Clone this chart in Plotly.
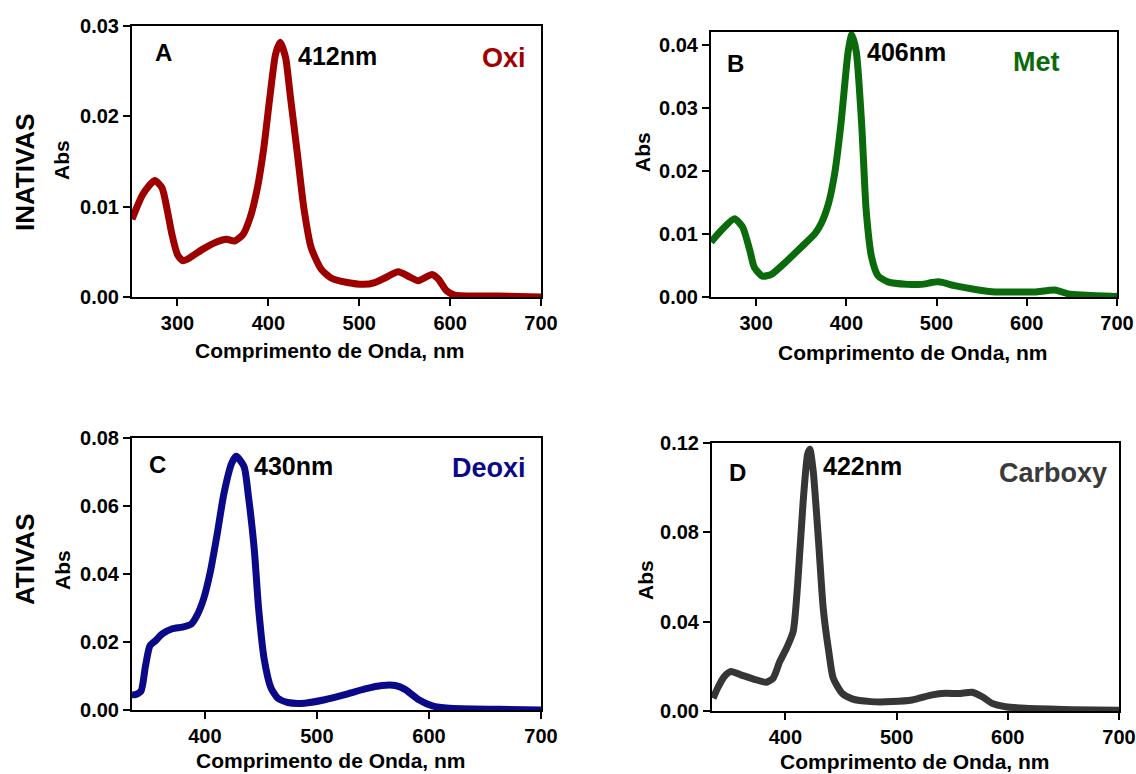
import plotly.graph_objects as go

# ---------------- data ----------------
wl_oxi = [250, 262, 275, 283, 289, 294, 300, 306, 313, 328, 343, 354, 363, 372, 380,
          388, 395, 402, 408, 413, 419, 424, 432, 439, 447, 458, 469, 487, 505, 517,
          528, 543, 554, 565, 580, 587, 596, 605, 653, 700]
abs_oxi = [0.0086, 0.0114, 0.0129, 0.0121, 0.0095, 0.0069, 0.0047, 0.0040, 0.0043, 0.0053,
           0.0061, 0.0064, 0.0062, 0.0069, 0.0088, 0.0121, 0.0165, 0.0224, 0.0269, 0.0282,
           0.0265, 0.0224, 0.0158, 0.0099, 0.0055, 0.0031, 0.0021, 0.0016, 0.0014, 0.0016,
           0.0021, 0.0028, 0.0023, 0.0018, 0.0025, 0.0020, 0.0007, 0.0002, 0.0001, 0.0000]

wl_met = [250, 261, 276, 285, 293, 298, 307, 317, 331, 350, 365, 372, 380, 387, 394,
          402, 406, 411, 417, 422, 428, 435, 446, 468, 483, 502, 520, 543, 565, 591,
          609, 631, 646, 661, 694, 700]
abs_met = [0.0087, 0.0105, 0.0124, 0.0111, 0.0074, 0.0047, 0.0033, 0.0036, 0.0053, 0.0079,
           0.0100, 0.0116, 0.0147, 0.0195, 0.0274, 0.0389, 0.0416, 0.0389, 0.0274, 0.0137,
           0.0063, 0.0034, 0.0024, 0.0020, 0.0020, 0.0024, 0.0018, 0.0012, 0.0008, 0.0008,
           0.0008, 0.0011, 0.0005, 0.0003, 0.0001, 0.0001]

wl_deoxi = [335, 338, 343, 347, 351, 356, 362, 371, 380, 388, 393, 399, 405, 411, 417,
            424, 428, 435, 439, 444, 448, 453, 459, 465, 474, 489, 507, 525, 543, 558,
            570, 579, 591, 603, 618, 663, 700]
abs_deoxi = [0.0045, 0.0045, 0.0055, 0.0129, 0.0189, 0.0204, 0.0224, 0.0239, 0.0244, 0.0253,
             0.0278, 0.0328, 0.0408, 0.0517, 0.0636, 0.0726, 0.0746, 0.0716, 0.0626, 0.0477,
             0.0298, 0.0149, 0.0065, 0.0035, 0.0022, 0.0020, 0.0030, 0.0045, 0.0062, 0.0072,
             0.0072, 0.0060, 0.0030, 0.0012, 0.0005, 0.0002, 0.0000]

wl_carboxy = [335, 339, 345, 351, 360, 372, 383, 389, 395, 401, 407, 411, 416, 420, 422,
              425, 430, 434, 439, 443, 451, 460, 477, 496, 514, 532, 544, 556, 568, 577,
              586, 598, 616, 658, 700]
abs_carboxy = [0.0057, 0.0102, 0.0154, 0.0177, 0.0162, 0.0142, 0.0129, 0.0147, 0.0222, 0.0281,
               0.0356, 0.0566, 0.0940, 0.1150, 0.1172, 0.1075, 0.0746, 0.0461, 0.0266, 0.0147,
               0.0079, 0.0054, 0.0042, 0.0042, 0.0049, 0.0072, 0.0079, 0.0078, 0.0084, 0.0064,
               0.0034, 0.0019, 0.0012, 0.0006, 0.0003]

panel_letters = ["A", "B", "C", "D"]
peak_labels = ["412nm", "406nm", "430nm", "422nm"]
species = ["Oxi", "Met", "Deoxi", "Carboxy"]
row_labels = ["INATIVAS", "ATIVAS"]
x_title = "Comprimento de Onda, nm"
y_title = "Abs"

colors = ["#9e0000", "#0b6a0b", "#0a0a88", "#363636"]
label_colors = ["#a00000", "#0b6a0b", "#0a0a88", "#3a3a3a"]

W, H = 1136, 774
FONT = "Liberation Sans, Arial, sans-serif"

def px(x):
    return x / W

def py(y):
    return 1 - y / H

# plot areas in pixels: left, right, top, bottom
areas = [
    (132, 541, 26, 297),
    (711, 1117, 32, 297),
    (132, 541, 438, 710),
    (712, 1119, 443, 711),
]
xranges = [[250, 700], [250, 700], [335, 700], [334, 700]]
yranges = [[0, 0.03], [0, 0.042], [0, 0.08], [0, 0.12]]
ydticks = [0.01, 0.01, 0.02, 0.04]
xticks = [[300, 400, 500, 600, 700], [300, 400, 500, 600, 700],
          [400, 500, 600, 700], [400, 500, 600, 700]]

series = [(wl_oxi, abs_oxi), (wl_met, abs_met), (wl_deoxi, abs_deoxi), (wl_carboxy, abs_carboxy)]

fig = go.Figure()
layout = dict(
    width=W, height=H,
    margin=dict(l=0, r=0, t=0, b=0, pad=0, autoexpand=False),
    paper_bgcolor="white", plot_bgcolor="white",
    showlegend=False,
    font=dict(family=FONT, color="black"),
)

annotations = []
for i, (wx, ay) in enumerate(series):
    n = "" if i == 0 else str(i + 1)
    fig.add_trace(go.Scatter(
        x=wx, y=ay, mode="lines",
        line=dict(color=colors[i], width=7, shape="spline", smoothing=0.6),
        xaxis="x" + n, yaxis="y" + n, hoverinfo="x+y",
    ))
    l, r, t, b = areas[i]
    axis_common = dict(
        showline=True, linecolor="black", linewidth=2, mirror=True,
        ticks="outside", ticklen=7, tickwidth=2, tickcolor="black",
        showgrid=False, zeroline=False, automargin=False,
        tickfont=dict(family=FONT, size=20, color="black", weight="bold"),
    )
    layout["xaxis" + n] = dict(
        axis_common, domain=[px(l), px(r)], range=xranges[i],
        tickmode="array", tickvals=xticks[i], anchor="y" + n,
    )
    layout["yaxis" + n] = dict(
        axis_common, domain=[py(b), py(t)], range=yranges[i],
        tick0=0, dtick=ydticks[i], tickformat=".2f", anchor="x" + n,
    )

# text positions (pixels)
letter_pos = [(163, 52), (735, 63), (157, 465), (737, 472)]
peak_pos = [(296, 56), (865, 52), (252, 466), (821, 466)]
species_pos = [(528, 58), (1062, 62), (528, 468), (1109, 473)]
xtitle_pos = [(330, 350), (913, 352), (331, 760), (915, 761)]
ytitle_pos = [(62, 160), (643, 152), (62, 570), (645, 580)]
row_pos = [(25, 173), (25, 560)]

def ann(x, y, text, size, color="black", xanchor="center", angle=0):
    return dict(x=px(x), y=py(y), xref="paper", yref="paper", text=text, showarrow=False,
                xanchor=xanchor, yanchor="middle", textangle=angle,
                font=dict(family=FONT, size=size, color=color, weight="bold"))

for i in range(4):
    annotations.append(ann(*letter_pos[i], panel_letters[i], 24))
    annotations.append(ann(*peak_pos[i], peak_labels[i], 25, xanchor="left"))
    annotations.append(ann(*species_pos[i], species[i], 27, color=label_colors[i], xanchor="right"))
    annotations.append(ann(*xtitle_pos[i], x_title, 21))
    annotations.append(ann(*ytitle_pos[i], y_title, 21, angle=-90))
for j in range(2):
    annotations.append(ann(*row_pos[j], row_labels[j], 26, angle=-90))

layout["annotations"] = annotations
fig.update_layout(**layout)

fig.write_html("out.html", config={"displayModeBar": False},
               post_script="document.body.style.margin='0';")
